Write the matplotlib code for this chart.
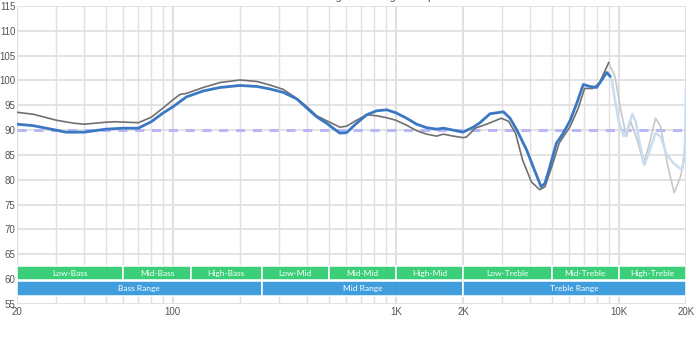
import matplotlib
matplotlib.use("Agg")
import matplotlib.pyplot as plt
from matplotlib.patches import Rectangle
from matplotlib.ticker import FixedLocator, NullLocator

# ---- data ----
left_freq = [20, 23.7, 30, 33, 40, 50, 60, 70, 80, 90, 100, 115, 137, 163, 200, 238, 272, 313, 359,
             400, 441, 489, 530, 561, 601, 667, 740, 820, 910, 1000, 1117, 1239, 1374, 1524, 1633,
             1809, 2000, 2223, 2382, 2643, 3034, 3250, 3490, 3860, 4130, 4480, 4660, 4900, 5250,
             5630, 6040, 6470, 6930, 7420, 7950, 8380, 8810, 9120]
left_db = [91.2, 90.9, 90.0, 89.6, 89.6, 90.2, 90.4, 90.4, 91.7, 93.4, 94.7, 96.7, 97.9, 98.6, 99.0, 98.8,
           98.3, 97.6, 96.3, 94.4, 92.7, 91.4, 90.2, 89.4, 89.5, 91.4, 93.1, 93.9, 94.1, 93.5, 92.4,
           91.2, 90.5, 90.2, 90.4, 90.0, 89.6, 90.6, 91.5, 93.3, 93.7, 92.4, 90.0, 86.0, 82.6, 78.6,
           79.3, 82.6, 87.4, 89.4, 91.9, 95.4, 99.2, 98.8, 98.6, 100.1, 101.6, 100.9]

left_hi_freq = [8810, 8970, 9300, 9600, 9960, 10500, 10900, 11500, 11900, 12400, 13000, 13600,
                14600, 15400, 16300, 17600, 19200, 19800, 20000]
left_hi_db = [101.6, 101.6, 100.1, 96.1, 92.0, 88.8, 90.0, 93.3, 91.7, 87.4, 83.0, 85.3,
              89.4, 88.7, 85.3, 83.3, 82.0, 86.0, 98.1]

right_freq = [20, 23.7, 30, 36, 40, 50, 55, 70, 80, 90, 100, 107.7, 115, 137, 163, 200, 238, 272,
              313, 359, 400, 441, 489, 561, 601, 667, 740, 820, 910, 1000, 1117, 1239, 1374, 1524,
              1633, 1809, 2000, 2070, 2270, 2550, 2970, 3200, 3440, 3700, 4050, 4420, 4660, 5000,
              5400, 6040, 6570, 7020, 7660, 8200, 9000]
right_db = [93.6, 93.2, 92.0, 91.4, 91.2, 91.6, 91.7, 91.5, 92.6, 94.4, 96.1, 97.2, 97.4, 98.6, 99.6,
            100.1, 99.8, 99.1, 98.2, 96.4, 94.7, 92.9, 91.9, 90.6, 90.8, 92.0, 93.1, 92.9, 92.5, 92.0,
            91.0, 89.9, 89.2, 88.8, 89.2, 88.8, 88.5, 88.6, 90.4, 91.2, 92.4, 91.8, 89.4, 84.0, 79.6,
            78.0, 78.6, 82.6, 87.4, 90.7, 94.4, 98.4, 98.4, 99.6, 103.6]

right_hi_freq = [9000, 9600, 10200, 10800, 11300, 12100, 12900, 13600, 14600, 15400, 16600, 17700,
                 18900, 19600, 20000]
right_hi_db = [103.6, 100.8, 94.1, 88.7, 91.7, 88.0, 83.3, 86.7, 92.4, 90.7, 82.6, 77.4,
               80.6, 84.0, 94.1]

target_db = 90

band_edges = [20, 60, 120, 250, 500, 1000, 2000, 5000, 10000, 20000]
band_names = ["Low-Bass", "Mid-Bass", "High-Bass", "Low-Mid", "Mid-Mid", "High-Mid",
              "Low-Treble", "Mid-Treble", "High-Treble"]
range_edges = [20, 250, 2000, 20000]
range_names = ["Bass Range", "Mid Range", "Treble Range"]

x_ticks = [20, 100, 1000, 2000, 10000, 20000]
x_labels = ["20", "100", "1K", "2K", "10K", "20K"]
y_ticks = list(range(55, 116, 5))

# ---- figure ----
plt.rcParams['font.family'] = ['Liberation Sans', 'DejaVu Sans']
fig = plt.figure(figsize=(7.0, 3.58), dpi=100)
ax = fig.add_axes([17 / 700, 1 - 304 / 358, (686 - 17) / 700, (304 - 6) / 358])
ax.set_xscale('log')
ax.set_xlim(20, 20000)
ax.set_ylim(55, 115)

# grid
minor = []
for dec in [10, 100, 1000, 10000]:
    for m in range(1, 10):
        v = dec * m
        if 20 <= v <= 20000:
            minor.append(v)
for v in minor:
    lw = 1.5 if v in (100, 1000, 2000, 10000, 20000) else 1.0
    ax.axvline(v, color='#e0e0e0', lw=lw, zorder=0)
for y in y_ticks:
    ax.axhline(y, color='#e0e0e0', lw=1.3, zorder=0)

# bands
gy0, gh = 59.8, 2.85
by0, bh = 56.7, 2.85
for i, name in enumerate(band_names):
    lo, hi = band_edges[i], band_edges[i + 1]
    ax.add_patch(Rectangle((lo, gy0), hi - lo, gh, facecolor='#2ecc71', edgecolor='white',
                           lw=1.2, alpha=0.94, zorder=2))
    ax.text((lo * hi) ** 0.5, gy0 + gh / 2, name, color='white', fontsize=6,
            ha='center', va='center', zorder=4, family=['Lato', 'DejaVu Sans'])
for i, name in enumerate(range_names):
    lo, hi = range_edges[i], range_edges[i + 1]
    ax.add_patch(Rectangle((lo, by0), hi - lo, bh, facecolor='#3498db', edgecolor='white',
                           lw=1.2, alpha=0.94, zorder=2))
    ax.text((lo * hi) ** 0.5, by0 + bh / 2, name, color='white', fontsize=6,
            ha='center', va='center', zorder=4, family=['Lato', 'DejaVu Sans'])

# curves
ax.axhline(target_db, color='#b8b8f8', lw=2.2, ls=(0, (3, 2.5)), zorder=4)
ax.plot(right_hi_freq, right_hi_db, color='#c8c8c8', lw=1.2, zorder=5)
ax.plot(left_hi_freq, left_hi_db, color='#c9dcf1', lw=1.8, zorder=5)
ax.plot(right_freq, right_db, color='#707070', lw=1.2, zorder=6)
ax.plot(left_freq, left_db, color='#3a78c3', lw=2.0, zorder=7)

# ticks
ax.xaxis.set_major_locator(FixedLocator(x_ticks))
ax.xaxis.set_minor_locator(NullLocator())
ax.set_xticklabels(x_labels)
ax.set_yticks(y_ticks)
ax.tick_params(axis='both', length=0, labelsize=7, labelcolor='#555555')
ax.tick_params(axis='x', pad=2)
ax.tick_params(axis='y', pad=1)
for s in ax.spines.values():
    s.set_visible(False)

# legend (clipped at top)
for xp, t in [(286, "Left"), (338, "Right"), (416, "Target Response")]:
    fig.text(xp / 700, 1 - 2 / 358, t, fontsize=8, color='#555555', ha='center', va='bottom')

fig.savefig('out.png', dpi=100)
